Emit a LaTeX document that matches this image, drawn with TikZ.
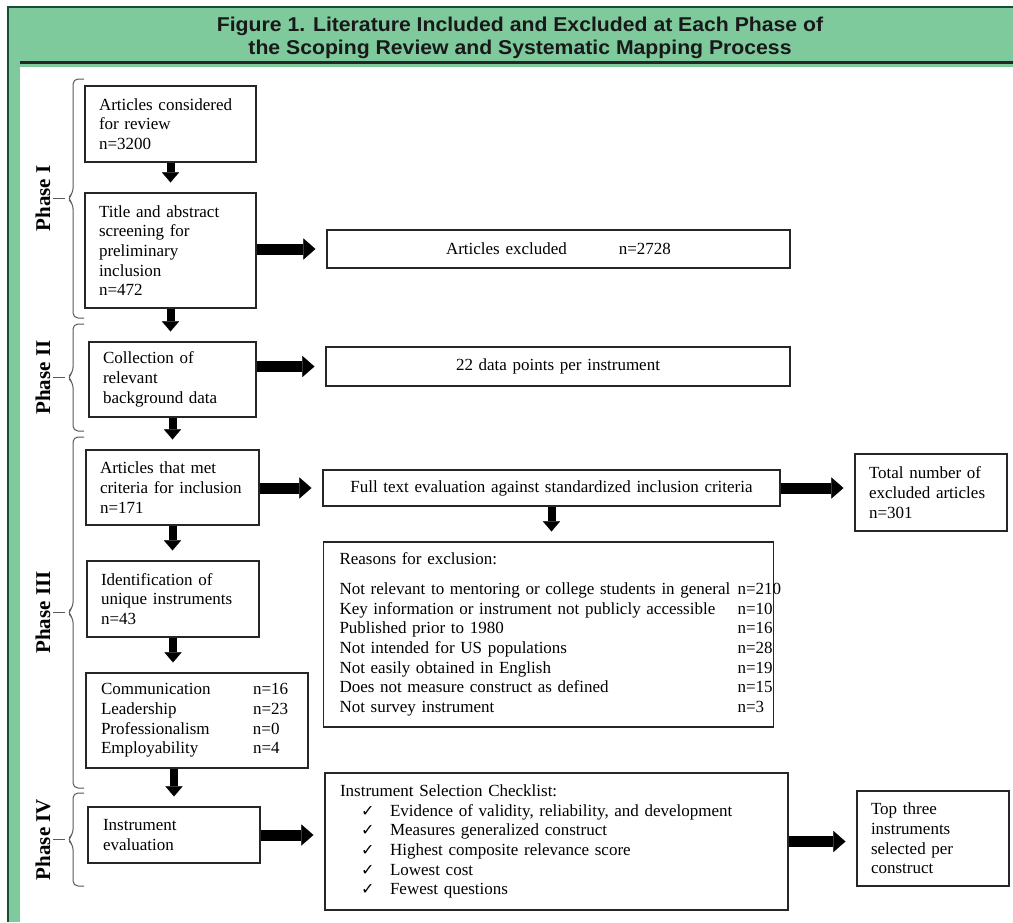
\documentclass[tikz,border=0pt]{standalone}
\usepackage{fontspec}
\setmainfont{Liberation Serif}
\newfontfamily\titlefont[FakeStretch=1.06]{Liberation Sans}
\newfontfamily\tickfont{DejaVu Sans}
\usetikzlibrary{arrows.meta}

\definecolor{framegreen}{RGB}{127,202,157}
\definecolor{framedark}{RGB}{22,78,52}

\newcommand{\checkitem}[1]{\hspace*{21pt}\makebox[29pt][l]{\tickfont\fontsize{16}{16}\selectfont ✓}#1}
\newcommand{\countrow}[3]{\makebox[#1][l]{#2}\makebox[20pt][l]{#3}}

\begin{document}
\begin{tikzpicture}[
    x=1pt, y=-1pt,
    box/.style={draw=black!85, line width=1.2pt, inner xsep=14pt, inner ysep=0pt,
        align=left, font=\fontsize{17}{19.7}\selectfont},
    wide/.style={box, align=center},
    harrow/.style={line width=11pt, -{Triangle[length=12pt, width=21pt, line width=0.1pt]},
        shorten >=11pt},
    varrow/.style={line width=8pt, -{Triangle[length=10pt, width=17pt, line width=0.1pt]},
        shorten >=10pt},
    phase/.style={rotate=90, inner sep=0pt, font=\fontsize{21}{21}\selectfont\bfseries},
    bracket/.style={draw=black!65, line width=1pt, rounded corners=5pt},
    stub/.style={draw=black!65, line width=1pt},
    ]
    \useasboundingbox (0,0) rectangle (1013,922);

    \fill[framegreen] (8,7) rectangle (1013,922);
    \draw[framedark, line width=2.5pt] (8,922) -- (8,7) -- (1013,7);
    \fill[white] (20,67) rectangle (1013,922);
    \draw[black!85, line width=3pt] (20,62) -- (1013,62);
    \node[font=\titlefont\bfseries\fontsize{20}{23}\selectfont, align=center, text=black!90]
        (title) at (520,37.5) {Figure 1. Literature Included and Excluded at Each Phase of\\
        the Scoping Review and Systematic Mapping Process};

    \node[box, text width=143pt, minimum height=76pt] (review) at (170.5,124)
        {Articles considered\\for review\\n=3200};
    \node[box, text width=143pt, minimum height=115pt] (screen) at (170.5,250.5)
        {Title and abstract\\screening for\\preliminary\\inclusion\\n=472};
    \node[wide, text width=435pt, minimum height=38pt] (excluded) at (558.5,249)
        {Articles excluded\hspace{52pt}n=2728};
    \node[box, text width=139pt, minimum height=75pt] (background) at (172.5,379.5)
        {Collection of\\relevant\\background data};
    \node[wide, text width=436pt, minimum height=39pt] (datapoints) at (558,366.5)
        {22 data points per instrument};
    \node[box, text width=145pt, minimum height=75pt] (met) at (172.5,487.5)
        {Articles that met\\criteria for inclusion\\n=171};
    \node[wide, text width=429pt, minimum height=36pt] (fulltext) at (551.5,488)
        {Full text evaluation against standardized inclusion criteria};
    \node[box, text width=124pt, minimum height=77pt] (total) at (931,492.5)
        {Total number of\\excluded articles\\n=301};
    \node[box, text width=418pt, minimum height=185pt, inner xsep=16pt] (reasons) at (548.5,634.5)
        {Reasons for exclusion:\\[10pt]
        \countrow{398pt}{Not relevant to mentoring or college students in general}{n=210}\\
        \countrow{398pt}{Key information or instrument not publicly accessible}{n=10}\\
        \countrow{398pt}{Published prior to 1980}{n=16}\\
        \countrow{398pt}{Not intended for US populations}{n=28}\\
        \countrow{398pt}{Not easily obtained in English}{n=19}\\
        \countrow{398pt}{Does not measure construct as defined}{n=15}\\
        \countrow{398pt}{Not survey instrument}{n=3}};
    \node[box, text width=144pt, minimum height=76pt] (unique) at (173,599)
        {Identification of\\unique instruments\\n=43};
    \node[box, text width=192pt, minimum height=95pt, inner xsep=15pt] (constructs) at (197,720.5)
        {\countrow{152pt}{Communication}{n=16}\\
        \countrow{152pt}{Leadership}{n=23}\\
        \countrow{152pt}{Professionalism}{n=0}\\
        \countrow{152pt}{Employability}{n=4}};
    \node[box, text width=142pt, minimum height=56pt, inner xsep=15pt] (evaluation) at (174,835)
        {Instrument\\evaluation};
    \node[box, text width=433pt, minimum height=137pt, inner xsep=15pt] (checklist) at (556.5,841.5)
        {Instrument Selection Checklist:\\
        \checkitem{Evidence of validity, reliability, and development}\\
        \checkitem{Measures generalized construct}\\
        \checkitem{Highest composite relevance score}\\
        \checkitem{Lowest cost}\\
        \checkitem{Fewest questions}};
    \node[box, text width=124pt, minimum height=95pt] (topthree) at (933,838.5)
        {Top three\\instruments\\selected per\\construct};

    \draw[varrow] (review.south) -- (review.south |- screen.north);
    \draw[varrow] (screen.south) -- (screen.south |- background.north);
    \draw[varrow] (background.south) -- (background.south |- met.north);
    \draw[varrow] (met.south) -- (met.south |- unique.north);
    \draw[varrow] (unique.south) -- (unique.south |- constructs.north);
    \draw[varrow] (constructs.south -| evaluation.north) -- (evaluation.north);
    \draw[varrow] (fulltext.south) -- (fulltext.south |- reasons.north);

    \draw[harrow] (screen.east |- excluded.west) -- (excluded.west);
    \draw[harrow] (background.east |- datapoints.west) -- (datapoints.west);
    \draw[harrow] (met.east |- fulltext.west) -- (fulltext.west);
    \draw[harrow] (fulltext.east) -- (fulltext.east -| total.west);
    \draw[harrow] (evaluation.east) -- (evaluation.east -| checklist.west);
    \draw[harrow] (checklist.east) -- (checklist.east -| topthree.west);

    \node[phase] (phaseI) at (43,198.5) {Phase I};
    \node[phase] (phaseII) at (43,377.5) {Phase II};
    \node[phase] (phaseIII) at (43,612.5) {Phase III};
    \node[phase] (phaseIV) at (43,839.5) {Phase IV};

    \foreach \top/\mid/\bot in {79/198.5/318, 324/377.5/431, 437/612.5/788, 793/839.5/886}
        \draw[bracket] (84,\top) -- (73,\top) -- (73,\mid-5) -- (67,\mid)
            -- (73,\mid+5) -- (73,\bot) -- (84,\bot);
    \foreach \p in {phaseI, phaseII, phaseIII, phaseIV}
        \draw[stub] ([xshift=2.5pt]\p.south) -- ++(12,0);
\end{tikzpicture}
\end{document}
